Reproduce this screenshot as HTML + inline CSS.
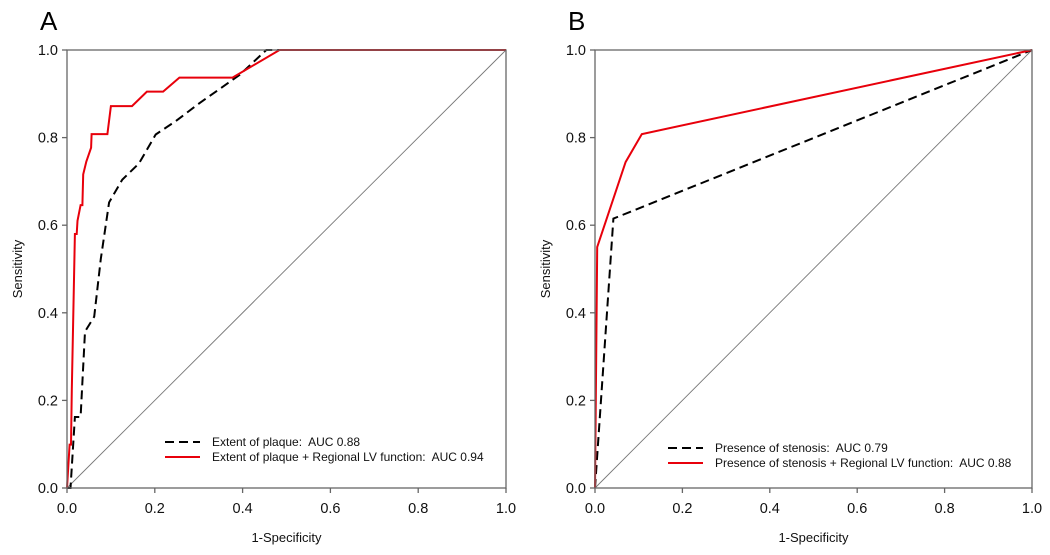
<!DOCTYPE html>
<html><head><meta charset="utf-8"><style>
html,body{margin:0;padding:0;background:#fff;}
svg{display:block;font-family:"Liberation Sans",Arial,sans-serif;}
svg text{white-space:pre;}
</style></head><body>
<svg id="chart" width="1050" height="555" viewBox="0 0 1050 555"></svg>
<script>
const tickValues=[0,0.2,0.4,0.6,0.8,1.0];
const tickLabels=["0.0","0.2","0.4","0.6","0.8","1.0"];
const aBlackX=[0,0.008,0.018,0.031,0.041,0.062,0.077,0.096,0.126,0.164,0.202,0.248,0.301,0.393,0.454,0.484,1];
const aBlackY=[0,0,0.162,0.162,0.357,0.391,0.523,0.652,0.704,0.741,0.807,0.838,0.878,0.943,1,1,1];
const aRedX=[0,0.006,0.009,0.011,0.018,0.022,0.024,0.031,0.035,0.037,0.044,0.055,0.056,0.092,0.1,0.148,0.182,0.219,0.256,0.377,0.484,1];
const aRedY=[0,0.099,0.099,0.224,0.58,0.58,0.61,0.646,0.646,0.716,0.745,0.777,0.808,0.808,0.872,0.872,0.905,0.905,0.937,0.937,1,1];
const bBlackX=[0,0.042,1];
const bBlackY=[0,0.615,1];
const bRedX=[0,0.005,0.07,0.107,1];
const bRedY=[0,0.55,0.744,0.808,1];
const NS="http://www.w3.org/2000/svg";
const svg=document.getElementById('chart');
function mk(tag,attrs,parent){const e=document.createElementNS(NS,tag);for(const k in attrs)e.setAttribute(k,attrs[k]);(parent||svg).appendChild(e);return e;}
function panel(id,letter,L,R,T,B,series,legend){
  const g=mk('g',{});
  
  
  const sx=v=>L+v*(R-L), sy=v=>B-v*(B-T);
  const lt=mk('text',{x:L-27,y:30,'font-size':26,fill:'#000'},g);lt.textContent=letter;
  
  
  const diag=mk('line',{x1:sx(0),y1:sy(0),x2:sx(1),y2:sy(1),stroke:'#777','stroke-width':0.9},g);
  
  
  series.forEach(s=>{
    const d=s.x.map((v,i)=>(i?'L':'M')+sx(v).toFixed(1)+','+sy(s.y[i]).toFixed(1)).join('');
    const p=mk('path',{d:d,fill:'none',stroke:s.color,'stroke-width':2,'stroke-dasharray':s.dash||'none'},g);
    
    
  });
  const fr=mk('rect',{x:L,y:T,width:R-L,height:B-T,fill:'none',stroke:'#666','stroke-width':1.3},g);
  
  
  tickValues.forEach((v,i)=>{
    mk('line',{x1:sx(v),y1:B,x2:sx(v),y2:B+5,stroke:'#666','stroke-width':1.3},g);
    mk('line',{x1:L-5,y1:sy(v),x2:L,y2:sy(v),stroke:'#666','stroke-width':1.3},g);
    const tx=mk('text',{x:sx(v),y:B+25,'font-size':14.5,'text-anchor':'middle',fill:'#111'},g);tx.textContent=tickLabels[i];
    
    
    const ty=mk('text',{x:L-9,y:sy(v)+5,'font-size':14.5,'text-anchor':'end',fill:'#111'},g);ty.textContent=tickLabels[i];
    
    
  });
  const xt=mk('text',{x:(L+R)/2,y:B+54,'font-size':13,'text-anchor':'middle',fill:'#111'},g);xt.textContent='1-Specificity';
  
  
  const yx=L-45,yy=(T+B)/2;
  const yt=mk('text',{x:yx,y:yy,'font-size':13,'text-anchor':'middle',fill:'#111',transform:'rotate(-90 '+yx+' '+yy+')'},g);yt.textContent='Sensitivity';
  
  
  legend.items.forEach((it,i)=>{
    const y=legend.y+i*15;
    const ll=mk('line',{x1:legend.x,y1:y,x2:legend.x+35,y2:y,stroke:it.color,'stroke-width':2,'stroke-dasharray':it.dash||'none'},g);
    
    
    const t=mk('text',{x:legend.x+47,y:y+4,'font-size':12,fill:'#111'},g);t.textContent=it.label;
    
    
  });
}
panel('a','A',67,506,50,488,[
  {x:aBlackX,y:aBlackY,color:'#000',dash:'9,5',name:'extent-of-plaque-curve'},
  {x:aRedX,y:aRedY,color:'#e8000b',name:'plaque-plus-lv-curve'}
],{x:165,y:442,items:[{label:'Extent of plaque:  AUC 0.88',color:'#000',dash:'9,5'},{label:'Extent of plaque + Regional LV function:  AUC 0.94',color:'#e8000b'}]});
panel('b','B',595,1032,50,488,[
  {x:bBlackX,y:bBlackY,color:'#000',dash:'9,5',name:'presence-of-stenosis-curve'},
  {x:bRedX,y:bRedY,color:'#e8000b',name:'stenosis-plus-lv-curve'}
],{x:668,y:448,items:[{label:'Presence of stenosis:  AUC 0.79',color:'#000',dash:'9,5'},{label:'Presence of stenosis + Regional LV function:  AUC 0.88',color:'#e8000b'}]});
</script>
</body></html>
